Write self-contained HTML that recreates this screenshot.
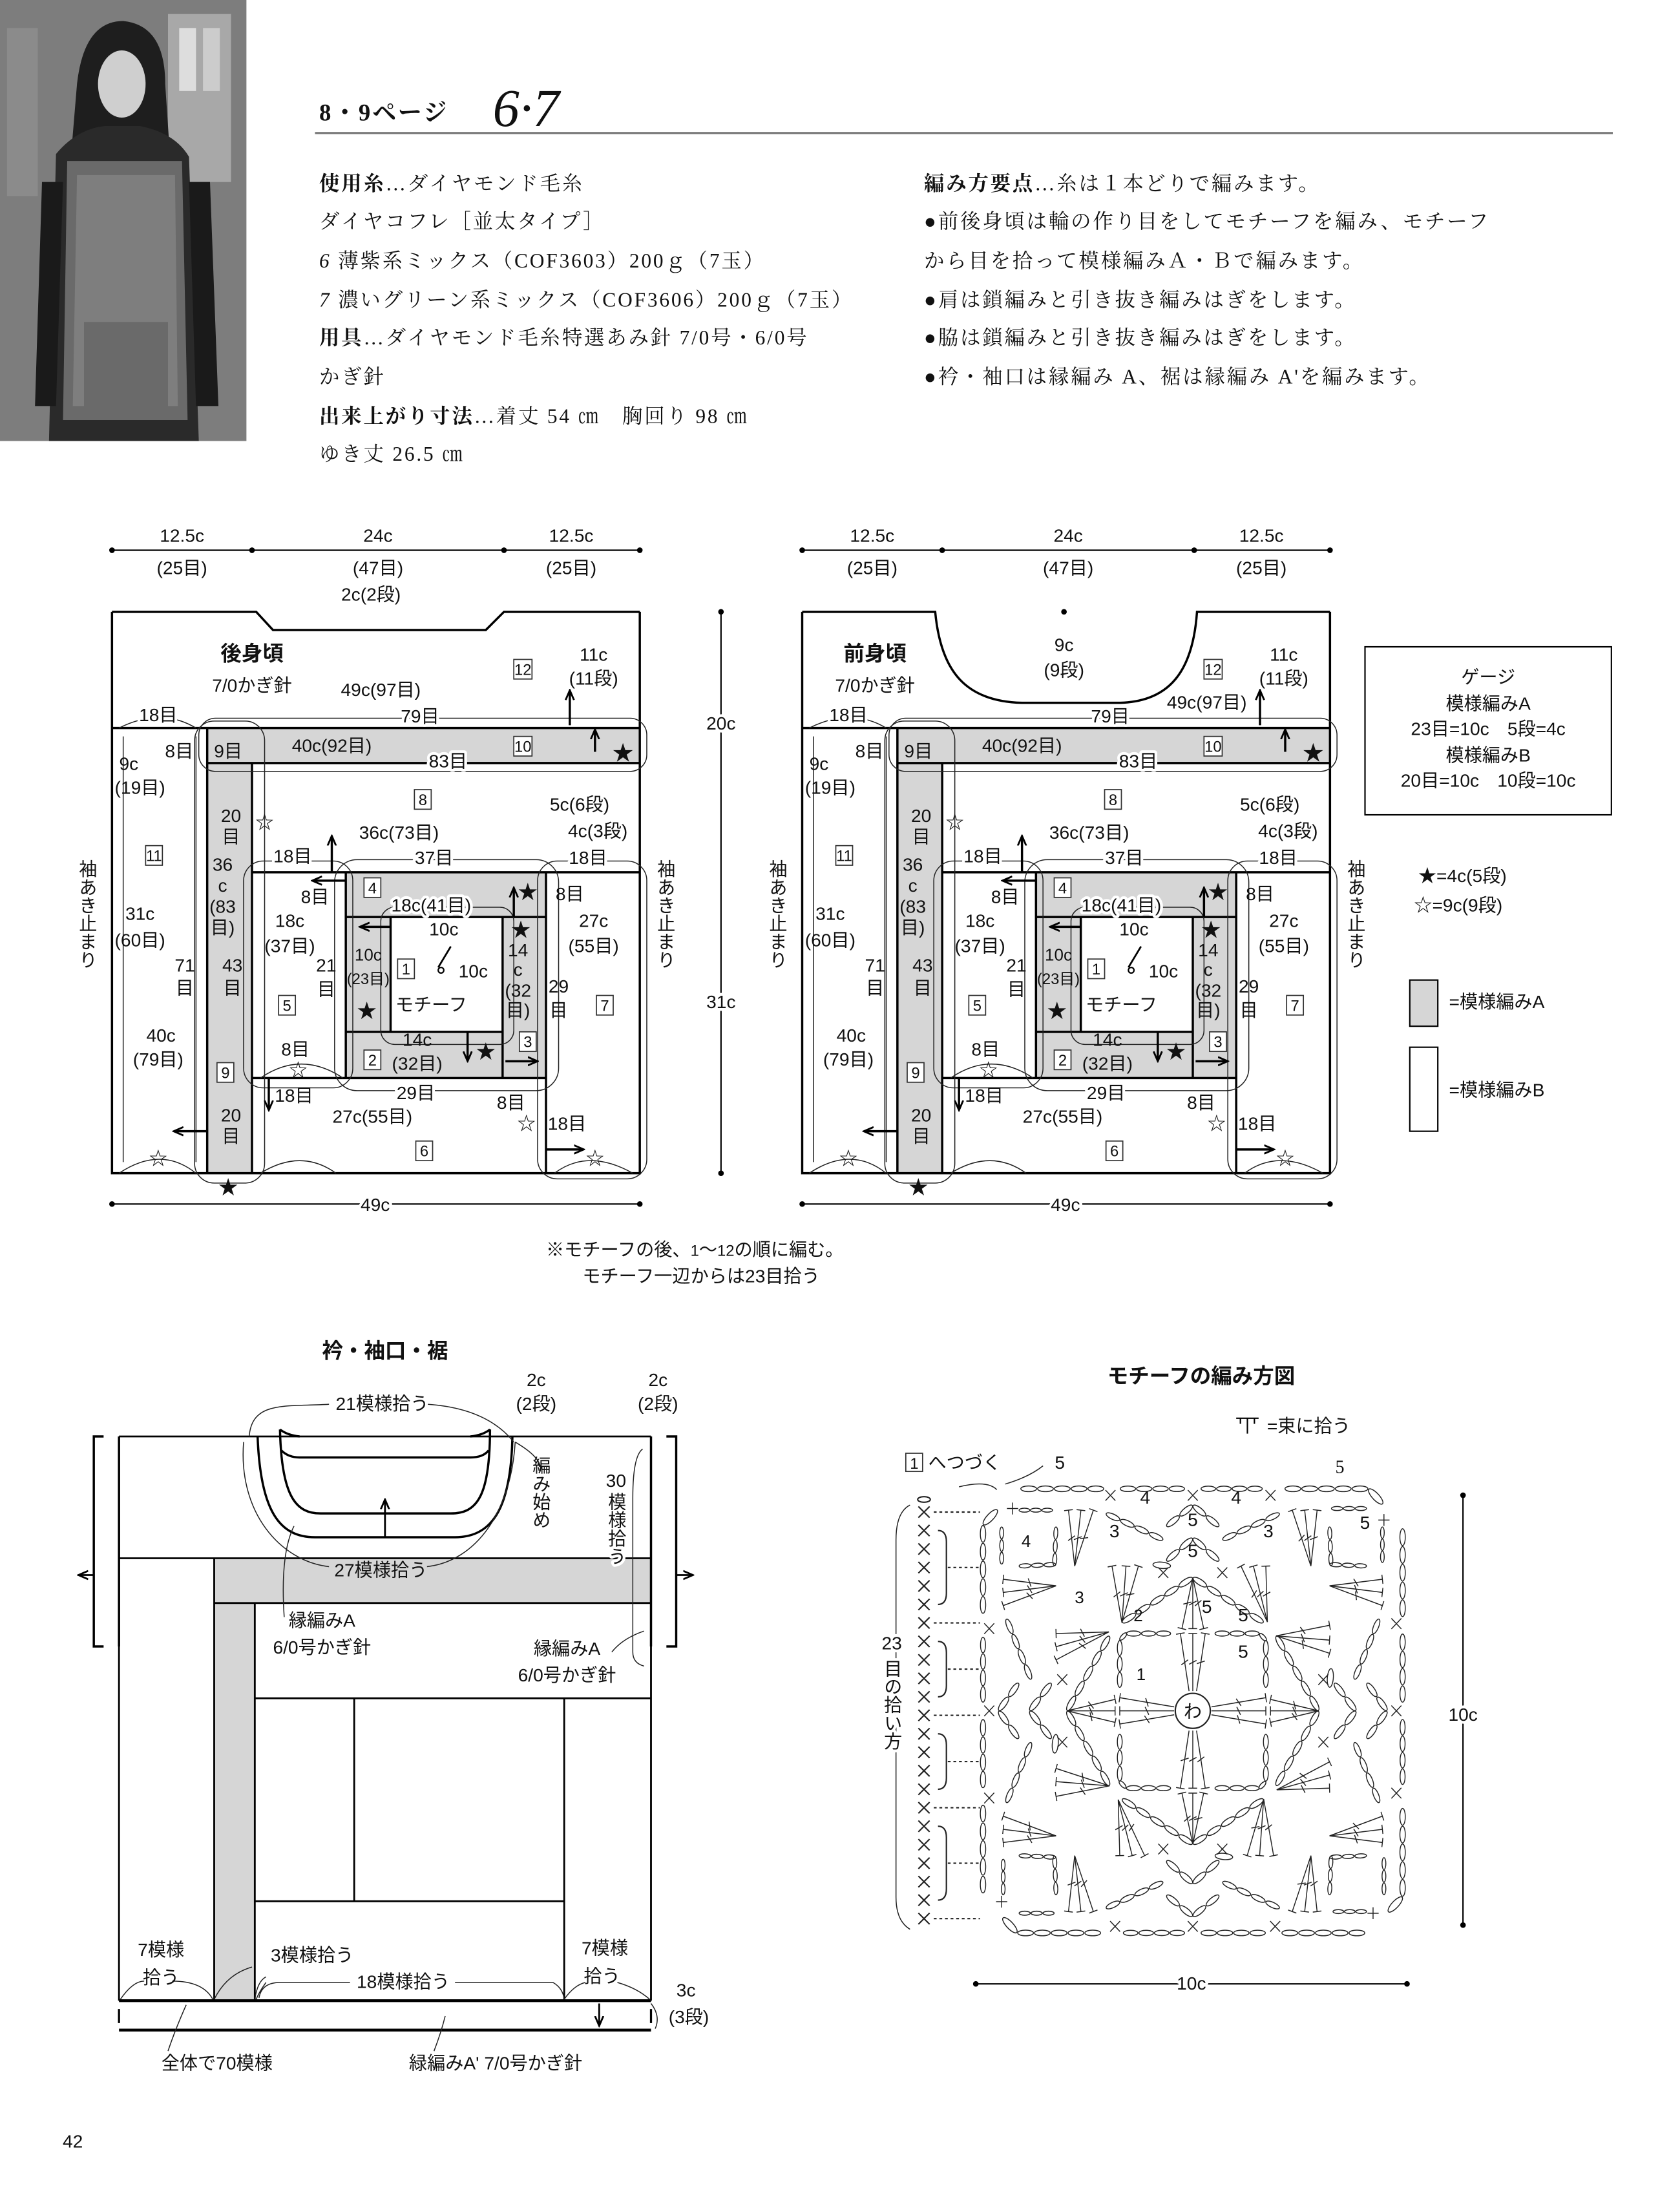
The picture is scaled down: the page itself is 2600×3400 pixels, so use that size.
<!DOCTYPE html>
<html><head><meta charset="utf-8">
<style>
html,body{margin:0;padding:0;background:#fff}
svg{display:block}
text{font-family:"Liberation Sans","Noto Sans CJK JP",sans-serif;font-size:13px;text-anchor:middle;fill:#111}
.s{font-family:"Liberation Serif","Noto Serif CJK JP",serif;font-size:14.5px;text-anchor:start;letter-spacing:1.3px}
.b{font-weight:bold}
.h{stroke:#fff;stroke-width:4px;paint-order:stroke;stroke-linejoin:round}
.v{writing-mode:vertical-rl;text-anchor:start}
.bx{fill:#fff;stroke:#333;stroke-width:0.8}
.t{fill:none;stroke:#222;stroke-width:0.7}
</style></head><body>
<svg xmlns="http://www.w3.org/2000/svg" width="2600" height="3400" viewBox="0 0 1200 1569.23">
<defs>
<marker id="ar" markerWidth="8" markerHeight="8" refX="6" refY="4" orient="auto" markerUnits="userSpaceOnUse"><path d="M0,1 L7,4 L0,7" fill="none" stroke="#000" stroke-width="1.3"/></marker>
</defs>
<rect width="1200" height="1570" fill="#fff"/>

<!-- photo -->
<g>
<rect x="0" y="0" width="176" height="315" fill="#6d6d6d"/>
<rect x="0" y="0" width="176" height="315" fill="#9a9a9a" opacity=".35"/>
<rect x="120" y="10" width="45" height="120" fill="#a8a8a8"/><rect x="128" y="20" width="12" height="45" fill="#ddd"/><rect x="145" y="20" width="12" height="45" fill="#ccc"/>
<rect x="5" y="20" width="22" height="120" fill="#8b8b8b"/>
<path d="M55 60 Q60 15 88 15 Q118 18 118 60 L122 120 L50 120 Z" fill="#1e1e1e"/>
<ellipse cx="87" cy="60" rx="17" ry="24" fill="#cfcfcf"/>
<path d="M40 110 Q55 92 75 90 L100 90 Q125 95 135 112 L142 315 L35 315 Z" fill="#2a2a2a"/>
<path d="M48 115 L130 115 L134 300 L45 300 Z" fill="#6a6a6a"/>
<path d="M55 125 L125 125 L127 290 L52 290 Z" fill="#8c8c8c" opacity=".6"/>
<rect x="60" y="230" width="60" height="60" fill="#555" opacity=".5"/>
<path d="M30 130 L45 130 L40 290 L25 290 Z M135 130 L150 130 L156 290 L140 290 Z" fill="#1a1a1a"/>
</g>

<!-- header -->
<line x1="225" y1="95" x2="1152" y2="95" stroke="#777" stroke-width="1.5"/>
<text x="228" y="86" class="s b" style="font-size:17px">8・9ページ</text>
<text x="352" y="90" style="font-family:'Liberation Serif',serif;font-style:italic;font-size:38px;text-anchor:start">6·7</text>

<text class="s" x="228" y="136"><tspan class="b">使用糸</tspan>…ダイヤモンド毛糸</text>
<text class="s" x="228" y="163">ダイヤコフレ［並太タイプ］</text>
<text class="s" x="228" y="191"><tspan font-style="italic">6</tspan> 薄紫系ミックス（COF3603）200ｇ（7玉）</text>
<text class="s" x="228" y="219"><tspan font-style="italic">7</tspan> 濃いグリーン系ミックス（COF3606）200ｇ（7玉）</text>
<text class="s" x="228" y="246"><tspan class="b">用具</tspan>…ダイヤモンド毛糸特選あみ針 7/0号・6/0号</text>
<text class="s" x="228" y="274">かぎ針</text>
<text class="s" x="228" y="302"><tspan class="b">出来上がり寸法</tspan>…着丈 54 ㎝　胸回り 98 ㎝</text>
<text class="s" x="228" y="329">ゆき丈 26.5 ㎝</text>

<text class="s" x="660" y="136"><tspan class="b">編み方要点</tspan>…糸は１本どりで編みます。</text>
<text class="s" x="660" y="163">●前後身頃は輪の作り目をしてモチーフを編み、モチーフ</text>
<text class="s" x="660" y="191">から目を拾って模様編みＡ・Ｂで編みます。</text>
<text class="s" x="660" y="219">●肩は鎖編みと引き抜き編みはぎをします。</text>
<text class="s" x="660" y="246">●脇は鎖編みと引き抜き編みはぎをします。</text>
<text class="s" x="660" y="274">●衿・袖口は縁編み A、裾は縁編み A'を編みます。</text>

<!-- BODY (shared) -->
<g id="body">
 <rect x="148" y="520" width="309" height="25" fill="#d6d6d6"/>
 <rect x="148" y="545" width="32" height="293" fill="#d6d6d6"/>
 <path d="M247 623H390V770H247Z M279 655V737H359V655Z" fill-rule="evenodd" fill="#d6d6d6"/>
 <g fill="none" stroke="#000" stroke-width="1.6">
  <path d="M80 437V838H457V437"/>
  <path d="M80 520H457M148 545H457M148 520V838M180 545V838M180 623H457M180 770H390M390 623V838M247 623V770M247 655H390M279 655V737M247 737H359M359 655V770"/>
 </g>
 <g class="t">
  <rect x="142" y="513" width="320" height="38" rx="12"/>
  <rect x="139" y="515" width="50" height="330" rx="14"/>
  <rect x="239" y="614" width="160" height="165" rx="16"/>
  <rect x="272" y="648" width="95" height="98" rx="10"/>
  <rect x="174" y="615" width="78" height="162" rx="14"/>
  <rect x="384" y="615" width="78" height="227" rx="14"/>
  <path d="M85 520 Q115 505 140 520 M85 838 Q115 818 140 838 M186 838 Q215 820 240 838 M396 838 Q420 820 452 838 M186 770 Q215 750 245 770"/>
  <path d="M88 526 V830 M140 526 V830"/>
 </g>
 <!-- arrows -->
 <g stroke="#000" stroke-width="1.6" fill="none" marker-end="url(#ar)">
  <path d="M407 518V494"/><path d="M425 537V522"/>
  <path d="M237 623V598"/><path d="M247 629H224"/>
  <path d="M279 662H258"/><path d="M367 655V635"/>
  <path d="M334 737V757"/><path d="M361 758H383"/>
  <path d="M192 770V792"/><path d="M148 808H125"/>
  <path d="M390 821H416"/>
 </g>
 <!-- dims -->
 <g stroke="#000" stroke-width="1"><path d="M80 393H457"/><path d="M80 860H457"/></g>
 <g fill="#000"><circle cx="80" cy="393" r="2"/><circle cx="180" cy="393" r="2"/><circle cx="360" cy="393" r="2"/><circle cx="457" cy="393" r="2"/><circle cx="80" cy="860" r="2"/><circle cx="457" cy="860" r="2"/></g>
 <text x="130" y="387" class="h">12.5c</text><text x="130" y="410">(25目)</text>
 <text x="270" y="387" class="h">24c</text><text x="270" y="410">(47目)</text>
 <text x="408" y="387" class="h">12.5c</text><text x="408" y="410">(25目)</text>
 <text x="268" y="865" class="h">49c</text>
 <!-- labels -->
 <rect class="bx" x="367" y="471" width="13" height="14"/><text x="373.5" y="482" style="font-size:11px">12</text>
 <text x="424" y="472">11c</text><text x="424" y="489">(11段)</text>
 <text x="113" y="515" class="h">18目</text>
 <text x="300" y="516" class="h">79目</text>
 <text x="237" y="537">40c(92目)</text>
 <text x="320" y="548" class="h">83目</text>
 <rect class="bx" x="367" y="526" width="13" height="14"/><text x="373.5" y="537" style="font-size:11px">10</text>
 <text x="163" y="541">9目</text><text x="128" y="541">8目</text>
 <text x="445" y="543" style="font-size:15px">★</text>
 <text x="92" y="550">9c</text><text x="100" y="567">(19目)</text>
 <rect class="bx" x="296" y="564" width="12" height="14"/><text x="302" y="575" style="font-size:11px">8</text>
 <text x="414" y="579">5c(6段)</text><text x="427" y="598">4c(3段)</text>
 <text x="285" y="599">36c(73目)</text>
 <text x="310" y="617" class="h">37目</text><text x="209" y="616" class="h">18目</text><text x="420" y="617" class="h">18目</text>
 <text x="165" y="587">20</text><text x="165" y="602">目</text><text x="189" y="592">☆</text>
 <text x="159" y="622">36</text><text x="159" y="637">c</text><text x="159" y="652">(83</text><text x="159" y="667">目)</text>
 <rect class="bx" x="104" y="604" width="12" height="14"/><text x="110" y="615" style="font-size:11px">11</text>
 <text x="100" y="657">31c</text><text x="100" y="676">(60目)</text>
 <text x="132" y="694">71</text><text x="132" y="710">目</text>
 <text x="166" y="694">43</text><text x="166" y="710">目</text>
 <text x="115" y="744" class="h">40c</text><text x="113" y="761">(79目)</text>
 <rect class="bx" x="155" y="759" width="12" height="14"/><text x="161" y="770" style="font-size:11px">9</text>
 <text x="165" y="801">20</text><text x="165" y="816">目</text>
 <text x="113" y="832">☆</text><text x="163" y="853" style="font-size:14px">★</text>
 <rect class="bx" x="260" y="627" width="12" height="14"/><text x="266" y="638" style="font-size:11px">4</text>
 <text x="308" y="651" class="h">18c(41目)</text>
 <text x="225" y="645">8目</text><text x="407" y="643">8目</text>
 <text x="377" y="642" style="font-size:14px">★</text>
 <text x="207" y="662">18c</text><text x="207" y="680">(37目)</text>
 <text x="317" y="668" class="h">10c</text>
 <text x="424" y="662">27c</text><text x="424" y="680">(55目)</text>
 <text x="233" y="694">21</text><text x="233" y="711">目</text>
 <text x="263" y="686" style="font-size:12px">10c</text><text x="263" y="703" style="font-size:11px">(23目)</text>
 <rect class="bx" x="284" y="685" width="12" height="14"/><text x="290" y="696" style="font-size:11px">1</text>
 <path d="M322 676 L313 691" stroke="#000" stroke-width="1.3" fill="none"/><circle cx="315" cy="693" r="2" fill="#fff" stroke="#000"/>
 <text x="338" y="698">10c</text>
 <text x="370" y="683">14</text><text x="370" y="697">c</text><text x="370" y="712">(32</text><text x="370" y="726">目)</text>
 <text x="372" y="669" style="font-size:14px">★</text>
 <text x="399" y="709">29</text><text x="399" y="726">目</text>
 <rect class="bx" x="199" y="711" width="12" height="14"/><text x="205" y="722" style="font-size:11px">5</text>
 <text x="308" y="722">モチーフ</text>
 <rect class="bx" x="426" y="711" width="12" height="14"/><text x="432" y="722" style="font-size:11px">7</text>
 <text x="262" y="727" style="font-size:14px">★</text>
 <text x="211" y="754">8目</text>
 <rect class="bx" x="260" y="750" width="12" height="14"/><text x="266" y="761" style="font-size:11px">2</text>
 <text x="298" y="747">14c</text><text x="298" y="764">(32目)</text>
 <text x="347" y="756" style="font-size:14px">★</text>
 <rect class="bx" x="371" y="737" width="12" height="14"/><text x="377" y="748" style="font-size:11px">3</text>
 <text x="213" y="769">☆</text>
 <text x="210" y="787">18目</text><text x="297" y="785" class="h">29目</text>
 <text x="266" y="802">27c(55目)</text><text x="365" y="792">8目</text>
 <text x="376" y="807">☆</text><text x="405" y="807">18目</text>
 <rect class="bx" x="297" y="815" width="12" height="14"/><text x="303" y="826" style="font-size:11px">6</text>
 <text x="425" y="832">☆</text>
 <text x="62" y="614" class="v">袖あき止まり</text>
 <text x="475" y="614" class="v">袖あき止まり</text>
</g>
<use href="#body" transform="translate(493,0)"/>

<!-- back neck -->
<path d="M80 437H183L195 450H347L360 437H457" fill="none" stroke="#000" stroke-width="1.6"/>
<text x="265" y="429">2c(2段)</text>
<text x="180" y="472" class="b" style="font-size:15px">後身頃</text>
<text x="180" y="494">7/0かぎ針</text>
<text x="272" y="497" class="h">49c(97目)</text>
<!-- front neck -->
<path d="M573 437H668 C672 480 690 501 730 502 H800 C835 501 852 480 855 437 H950" fill="none" stroke="#000" stroke-width="1.6"/>
<text x="760" y="465">9c</text><text x="760" y="483">(9段)</text>
<circle cx="760" cy="437" r="2"/>
<text x="625" y="472" class="b" style="font-size:15px">前身頃</text>
<text x="625" y="494">7/0かぎ針</text>
<text x="862" y="506" class="h">49c(97目)</text>

<!-- center vertical dim -->
<path d="M515 437V838" stroke="#000" stroke-width="1"/>
<circle cx="515" cy="437" r="2"/><circle cx="515" cy="838" r="2"/>
<text x="515" y="521" class="h">20c</text>
<text x="515" y="720" class="h">31c</text>

<!-- gauge -->
<rect x="975" y="462" width="176" height="120" fill="none" stroke="#000" stroke-width="1"/>
<text x="1063" y="488">ゲージ</text>
<text x="1063" y="507">模様編みA</text>
<text x="1063" y="525">23目=10c　5段=4c</text>
<text x="1063" y="544">模様編みB</text>
<text x="1063" y="562">20目=10c　10段=10c</text>
<text x="1013" y="630" style="text-anchor:start">★=4c(5段)</text>
<text x="1010" y="651" style="text-anchor:start">☆=9c(9段)</text>
<rect x="1007" y="700" width="20" height="33" fill="#d6d6d6" stroke="#000"/>
<text x="1035" y="720" style="text-anchor:start">=模様編みA</text>
<rect x="1007" y="748" width="20" height="60" fill="#fff" stroke="#000"/>
<text x="1035" y="783" style="text-anchor:start">=模様編みB</text>

<text x="390" y="897" style="text-anchor:start">※モチーフの後、<tspan style="font-size:11px">1</tspan>～<tspan style="font-size:11px">12</tspan>の順に編む。</text>
<text x="416" y="916" style="text-anchor:start">モチーフ一辺からは23目拾う</text>

<!-- bottom-left diagram -->
<text x="275" y="970" class="b" style="font-size:15px">衿・袖口・裾</text>
<rect x="153" y="1113" width="312" height="32" fill="#d6d6d6"/>
<rect x="153" y="1145" width="29" height="284" fill="#d6d6d6"/>
<g fill="none" stroke="#000" stroke-width="1.3">
 <path d="M85 1026H465M85 1026V1429M465 1026V1429M85 1113H465M153 1113V1429M182 1145V1429M153 1145H465M182 1213H465M253 1213V1358M182 1358H403M403 1213V1429"/>
 <path d="M85 1429H465" stroke-width="2"/><path d="M85 1450H465" stroke-width="2"/>
 <path d="M85 1435V1445M465 1435V1445" stroke-width="1.5"/>
 <path d="M74 1026H67V1176H74M85 1026V1176" stroke-width="1.6"/>
 <path d="M476 1026H483V1176H476M465 1026V1176" stroke-width="1.6"/>
 <path d="M184 1026 C186 1080 200 1098 225 1098 H325 C350 1098 365 1080 366 1026" stroke-width="1.6"/>
 <path d="M200 1021 C201 1070 212 1081 229 1081 H322 C340 1081 350 1070 350 1021" stroke-width="1.6"/>
 <path d="M201 1036 Q206 1041 214 1041 H336 Q345 1041 349 1036" stroke-width="1.6"/>
 <path d="M200 1021 Q205 1025 214 1026 M350 1021 Q345 1025 336 1026" stroke-width="1.6"/>
</g>
<g class="t">
 <path d="M178 1026 C180 1000 205 1005 235 1003 M305 1003 C335 1005 355 1015 367 1030"/>
 <path d="M174 1030 C170 1080 200 1115 235 1119 M305 1119 C340 1115 365 1080 368 1030"/>
 <path d="M368 1030 Q385 1040 386 1048"/>
 <path d="M459 1035 Q452 1040 452 1070 V1180 Q452 1188 460 1190"/>
 <path d="M203 1155 Q200 1110 210 1090"/>
 <path d="M437 1180 Q445 1170 460 1165"/>
 <path d="M86 1428 Q95 1415 103 1415 M123 1415 Q145 1415 152 1428 M153 1428 Q162 1410 180 1405 M182 1428 Q184 1415 190 1412 M190 1416 Q185 1423 183 1428 M185 1427 Q187 1416 200 1416 H250 M325 1416 H395 Q402 1420 403 1428 M403 1428 Q410 1418 418 1416 M441 1416 Q455 1420 464 1428"/>
 <path d="M133 1432 Q125 1450 120 1465 M318 1440 Q315 1452 310 1465"/>
 <path d="M465 1431 Q472 1440 468 1449"/>
</g>
<g stroke="#000" stroke-width="1.3" fill="none" marker-end="url(#ar)">
 <path d="M275 1098V1072"/><path d="M67 1125H57"/><path d="M483 1125H494"/><path d="M428 1431V1446"/>
</g>
<text x="273" y="1007" class="h">21模様拾う</text>
<text x="383" y="990">2c</text><text x="383" y="1007">(2段)</text>
<text x="470" y="990">2c</text><text x="470" y="1007">(2段)</text>
<text x="386" y="1040" class="v">編み始め</text>
<text x="440" y="1062">30</text><text x="440" y="1066" class="v h">模様拾う</text>
<text x="272" y="1126">27模様拾う</text>
<text x="230" y="1162">縁編みA</text><text x="230" y="1181">6/0号かぎ針</text>
<text x="405" y="1182">縁編みA</text><text x="405" y="1201">6/0号かぎ針</text>
<text x="115" y="1397">7模様</text><text x="115" y="1417">拾う</text>
<text x="223" y="1401">3模様拾う</text>
<text x="288" y="1420">18模様拾う</text>
<text x="432" y="1396">7模様</text><text x="430" y="1416">拾う</text>
<text x="490" y="1426">3c</text><text x="492" y="1445">(3段)</text>
<text x="155" y="1478">全体で70模様</text>
<text x="354" y="1478">緑編みA' 7/0号かぎ針</text>
<text x="52" y="1534">42</text>

<!-- motif chart -->
<text x="858" y="988" class="b" style="font-size:15px">モチーフの編み方図</text>
<path d="M883 1013H899M891 1013V1024M886 1013V1017M896 1013V1017" stroke="#000" stroke-width="1" fill="none"/>
<text x="905" y="1023" style="text-anchor:start">=束に拾う</text>
<rect class="bx" x="647" y="1038" width="12" height="13"/><text x="653" y="1049" style="font-size:11px">1</text>
<text x="663" y="1049" style="text-anchor:start">へつづく</text>
<text x="757" y="1049">5</text><text x="957" y="1052" style="font-family:'Liberation Serif',serif">5</text>
<path d="M745 1047 Q735 1055 718 1060 M712 1064 Q705 1057 685 1062" class="t"/>
<path d="M1045 1068V1375" stroke="#000" stroke-width="1"/><circle cx="1045" cy="1068" r="2"/><circle cx="1045" cy="1375" r="2"/>
<text x="1045" y="1229" class="h">10c</text>
<path d="M697 1417H1005" stroke="#000" stroke-width="1"/><circle cx="697" cy="1417" r="2"/><circle cx="1005" cy="1417" r="2"/>
<text x="851" y="1421" class="h">10c</text>
<path d="M650 1075 Q640 1080 640 1100 V1355 Q640 1372 650 1378" class="t"/>
<text x="637" y="1178" class="h">23</text>
<text x="637" y="1185" class="v h">目の拾い方</text>
<g id="chart" transform="translate(852,1222) scale(0.222,0.235)" fill="none" stroke="#222" stroke-width="3"></g>
<g id="xcol" fill="none" stroke="#222" stroke-width="1"></g>
<circle cx="852" cy="1222" r="12.5" fill="#fff" stroke="#222" stroke-width="1"/>
<text x="852" y="1227">わ</text>
<text x="815" y="1200" style="font-size:12px">1</text>
<text x="813" y="1158" style="font-size:12px">2</text>
<text x="771" y="1145" style="font-size:12px">3</text>
<text x="733" y="1105" style="font-size:12px">4</text>
<g style="font-family:'Liberation Serif',serif;font-size:13px;fill:#555">
<text x="796" y="1098">3</text><text x="906" y="1098">3</text><text x="818" y="1074">4</text><text x="883" y="1074">4</text>
<text x="852" y="1090">5</text><text x="852" y="1112">5</text><text x="888" y="1158">5</text><text x="888" y="1184">5</text><text x="862" y="1152">5</text><text x="975" y="1092">5</text>
</g>
</svg>
<script>
(function(){
const NS='http://www.w3.org/2000/svg';
function el(p,t,a){const e=document.createElementNS(NS,t);for(const k in a)e.setAttribute(k,a[k]);p.appendChild(e);return e;}
function chain(g,x1,y1,x2,y2,n){const dx=(x2-x1)/n,dy=(y2-y1)/n,L=Math.hypot(dx,dy),a=Math.atan2(dy,dx)*180/Math.PI;for(let i=0;i<n;i++){const cx=x1+dx*(i+.5),cy=y1+dy*(i+.5);el(g,'ellipse',{cx:cx,cy:cy,rx:L*0.47,ry:Math.max(6,L*0.16),transform:'rotate('+a+' '+cx+' '+cy+')'});}}
function tr(g,x1,y1,x2,y2){el(g,'line',{x1:x1,y1:y1,x2:x2,y2:y2});const dx=x2-x1,dy=y2-y1,L=Math.hypot(dx,dy),ux=-dy/L,uy=dx/L;el(g,'line',{x1:x2-ux*14,y1:y2-uy*14,x2:x2+ux*14,y2:y2+uy*14});const mx=(x1+x2)/2,my=(y1+y2)/2;el(g,'line',{x1:mx-ux*12-dx/L*6,y1:my-uy*12-dy/L*6,x2:mx+ux*12+dx/L*6,y2:my+uy*12+dy/L*6});}
function X(g,x,y,s){s=s||16;el(g,'path',{d:'M'+(x-s)+' '+(y-s)+'L'+(x+s)+' '+(y+s)+'M'+(x+s)+' '+(y-s)+'L'+(x-s)+' '+(y+s)});}
function P(g,x,y,s){s=s||18;el(g,'path',{d:'M'+(x-s)+' '+y+'H'+(x+s)+'M'+x+' '+(y-s)+'V'+(y+s)});}
const chart=document.getElementById('chart');
for(let r=0;r<4;r++){
 const g=el(chart,'g',{transform:'rotate('+(r*90)+')'});
 // round 1
 [-40,0,40].forEach(x=>tr(g,x*0.3,-60,x,-235));
 chain(g,-215,-235,-70,-235,3);chain(g,70,-235,215,-235,3);chain(g,215,-235,237,-213,1);
 // round 2 petals
 chain(g,-228,-268,0,-405,5);chain(g,0,-405,228,-268,5);
 [-35,0,35].forEach(x=>tr(g,0,-405+0,x,-250));
 [-260,-215,-175].forEach(x=>tr(g,-228,-268,x,-440));
 [155,195,235].forEach(x=>tr(g,240,-270,x,-440));
 // round 3
 chain(g,-560,-440,-440,-445,3);chain(g,-130,-445,-70,-440,1);
 X(g,-95,-420);X(g,95,-420);
 chain(g,-85,-455,0,-525,2);chain(g,0,-525,85,-455,2);
 chain(g,440,-445,560,-440,3);
 // round 4
 chain(g,-280,-600,-95,-520,4);chain(g,95,-520,280,-600,4);
 chain(g,-85,-560,0,-625,2);chain(g,0,-625,85,-560,2);
 [-400,-360,-320].forEach(x=>tr(g,-380,-440,x,-610));
 [320,360,400].forEach(x=>tr(g,380,-440,x,-610));
 chain(g,-560,-610,-450,-610,3);chain(g,445,-615,560,-615,3);
 // round 5
 chain(g,-555,-675,-285,-675,5);chain(g,-235,-675,-25,-675,4);chain(g,25,-675,225,-675,4);chain(g,295,-675,565,-675,5);
 X(g,-265,-655);X(g,0,-655);X(g,250,-655);
 P(g,-580,-615);
 chain(g,565,-675,612,-628,1);
}
const xc=document.getElementById('xcol');
el(xc,'ellipse',{cx:660,cy:1071,rx:4.5,ry:2});
for(let i=0;i<23;i++){const y=1080+i*13.2;el(xc,'path',{d:'M656 '+(y-4)+'L664 '+(y+4)+'M664 '+(y-4)+'L656 '+(y+4)});}
[0,6,11,16,22].forEach(i=>{const y=1080+i*13.2;el(xc,'line',{x1:667,y1:y,x2:700,y2:y,'stroke-dasharray':'2,2'});});
[[1,5],[7,10],[12,15],[17,21]].forEach(a=>{const y1=1080+a[0]*13.2,y2=1080+a[1]*13.2;el(xc,'path',{d:'M670 '+y1+'Q676 '+y1+' 676 '+(y1+8)+'V'+(y2-8)+'Q676 '+y2+' 670 '+y2});el(xc,'line',{x1:677,y1:(y1+y2)/2,x2:700,y2:(y1+y2)/2,'stroke-dasharray':'2,2'});});
})();
</script>
</body></html>
